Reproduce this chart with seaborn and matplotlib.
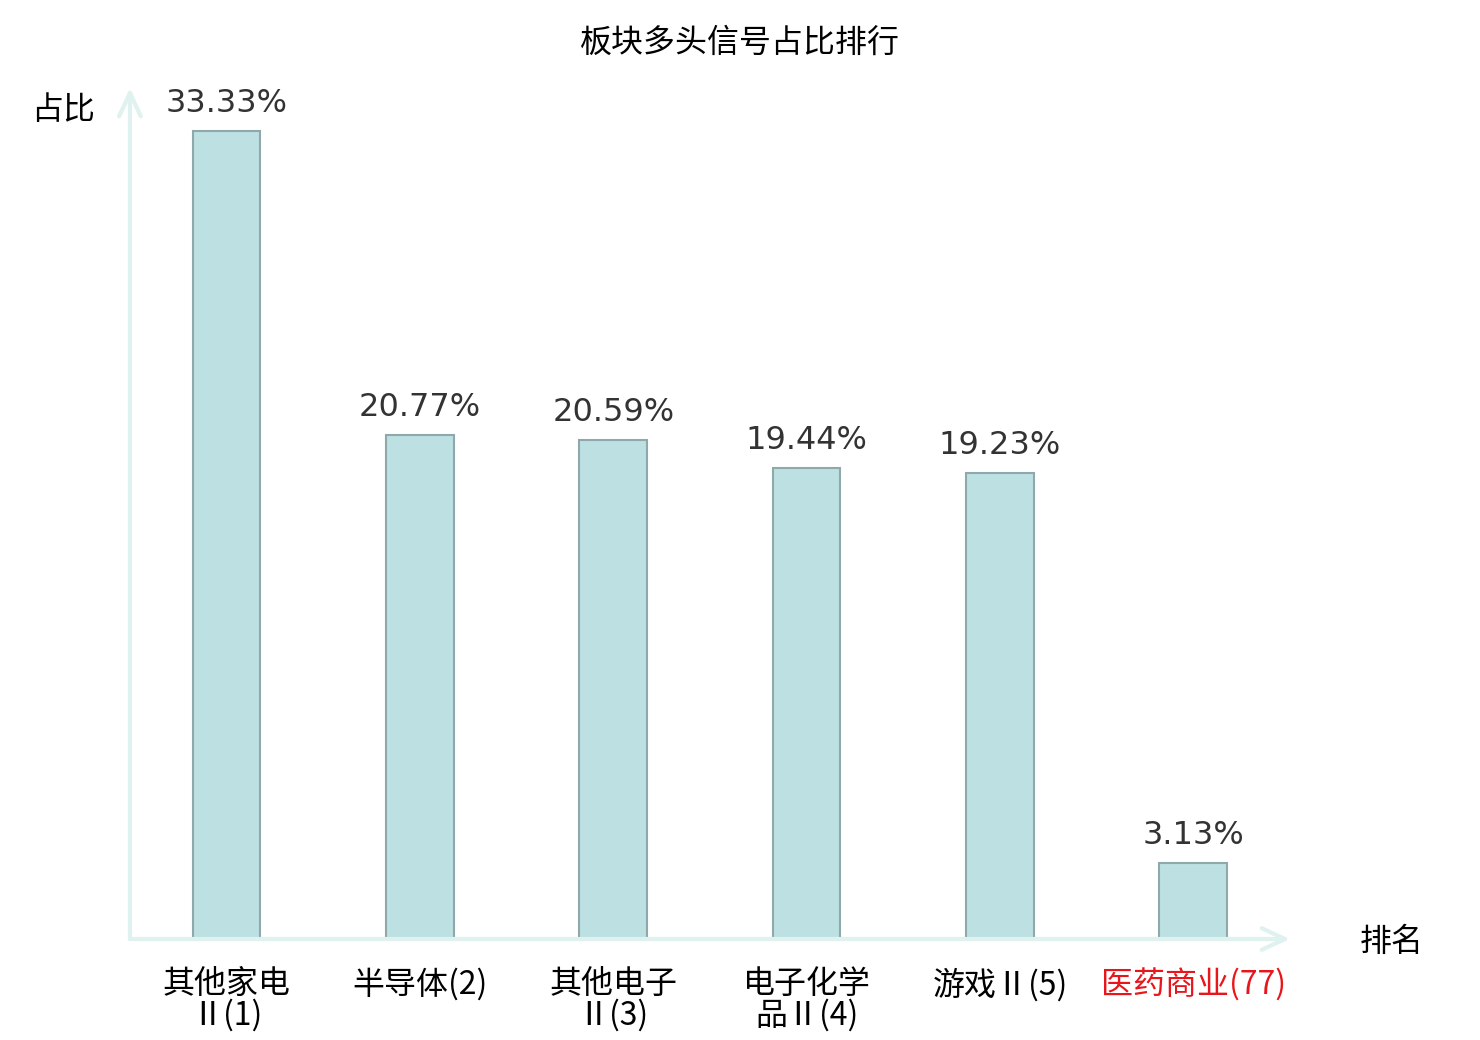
import numpy as np
import pandas as pd
import matplotlib
matplotlib.use("Agg")
import matplotlib.pyplot as plt
import seaborn as sns

sns.set_theme(style="white")
plt.rcParams['font.family'] = ['Noto Sans CJK SC', 'DejaVu Sans']

# ------------------------------------------------------------
# DATA
# ------------------------------------------------------------
categories = ["其他家电\nⅡ(1)", "半导体(2)", "其他电子\nⅡ(3)",
              "电子化学\n品Ⅱ(4)", "游戏Ⅱ(5)", "医药商业(77)"]
shares = [33.33, 20.77, 20.59, 19.44, 19.23, 3.13]
value_labels = ["33.33%", "20.77%", "20.59%", "19.44%", "19.23%", "3.13%"]
label_colors = ["#000000"] * 5 + ["#e8161b"]

df = pd.DataFrame({"板块": categories, "占比": shares})

# ------------------------------------------------------------
# PLOT
# ------------------------------------------------------------
fig = plt.figure(figsize=(14.8, 10.4), dpi=100)
ax = fig.add_axes([0.0878, 0.0971, 0.7838, 0.8183])

sns.barplot(data=df, x="板块", y="占比", ax=ax, width=0.35,
            color="#bde0e3", saturation=1, edgecolor="#8fa9aa", linewidth=1.5)

ax.set_xlim(-0.5, 5.5)
ax.set_ylim(0, 35.1)

for i, (v, t) in enumerate(zip(shares, value_labels)):
    ax.text(i, v + 0.5, t, ha="center", va="bottom", fontsize=23,
            color="#333333", family="DejaVu Sans")

# axes drawn as arrows
for s in ax.spines.values():
    s.set_visible(False)
axis_col = "#dff2ef"
arrow = dict(arrowstyle="->,head_length=1.4,head_width=0.65",
             color=axis_col, lw=3, shrinkA=0, shrinkB=0)
ax.annotate("", xy=(1.0, 0), xycoords="axes fraction", xytext=(0, 0),
            arrowprops=arrow)
ax.annotate("", xy=(0, 1.0), xycoords="axes fraction", xytext=(0, 0),
            arrowprops=arrow)

ax.set_yticks([])
ax.set_xticks(range(len(categories)))
ax.set_xticklabels(categories, fontsize=23, linespacing=0.95)
for lab, c in zip(ax.get_xticklabels(), label_colors):
    lab.set_color(c)
ax.tick_params(axis="x", length=0, pad=21)
ax.set_xlabel("")
ax.set_ylabel("")

fig.text(0.0426, 0.894, "占比", fontsize=23, ha="center", va="center", color="black")
fig.text(0.940, 0.094, "排名", fontsize=23, ha="center", va="center", color="black")
fig.text(0.5, 0.959, "板块多头信号占比排行", fontsize=23, ha="center", va="center",
         color="black")

fig.savefig("out.png", dpi=100)
